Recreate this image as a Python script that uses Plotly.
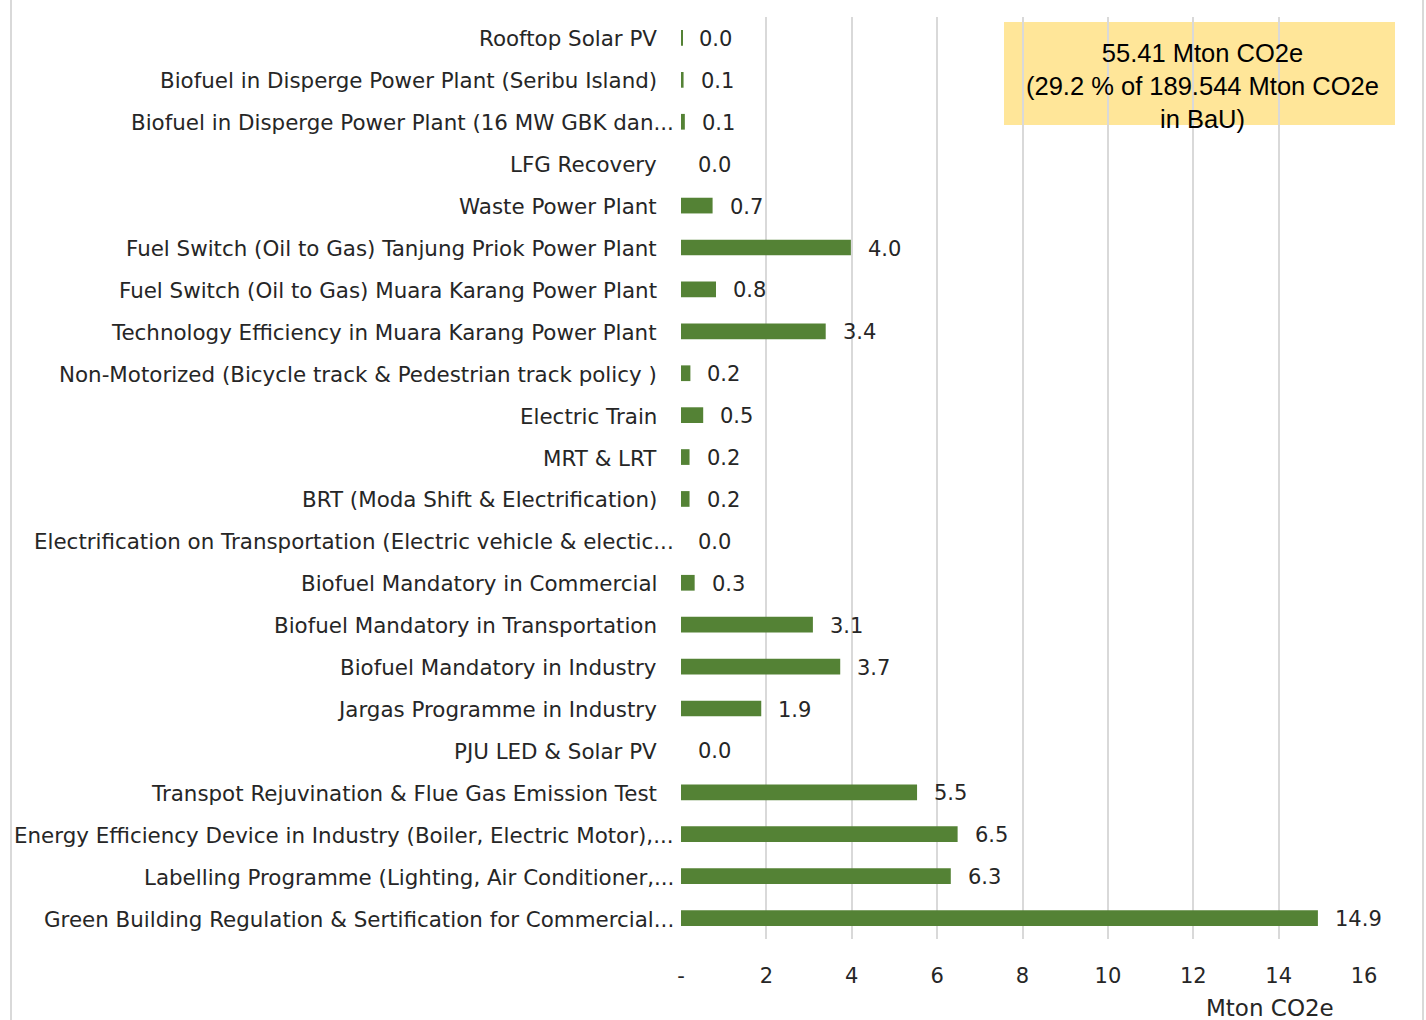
import plotly.graph_objects as go

categories = [
    "Rooftop Solar PV",
    "Biofuel in Disperge Power Plant (Seribu Island)",
    "Biofuel in Disperge Power Plant (16 MW GBK dan...",
    "LFG Recovery",
    "Waste Power Plant",
    "Fuel Switch (Oil to Gas) Tanjung Priok Power Plant",
    "Fuel Switch (Oil to Gas) Muara Karang Power Plant",
    "Technology Efficiency in Muara Karang Power Plant",
    "Non-Motorized (Bicycle track & Pedestrian track policy )",
    "Electric Train",
    "MRT & LRT",
    "BRT (Moda Shift & Electrification)",
    "Electrification on Transportation (Electric vehicle & electic...",
    "Biofuel Mandatory in Commercial",
    "Biofuel Mandatory in Transportation",
    "Biofuel Mandatory in Industry",
    "Jargas Programme in Industry",
    "PJU LED & Solar PV",
    "Transpot Rejuvination & Flue Gas Emission Test",
    "Energy Efficiency Device in Industry (Boiler, Electric Motor),...",
    "Labelling Programme (Lighting, Air Conditioner,...",
    "Green Building Regulation & Sertification for Commercial...",
]
values = [0.03, 0.06, 0.09, 0.0, 0.74, 3.98, 0.82, 3.39, 0.22, 0.52, 0.2, 0.2,
          0.0, 0.32, 3.09, 3.73, 1.88, 0.0, 5.53, 6.48, 6.32, 14.92]
labels = ["0.0", "0.1", "0.1", "0.0", "0.7", "4.0", "0.8", "3.4", "0.2", "0.5", "0.2", "0.2",
          "0.0", "0.3", "3.1", "3.7", "1.9", "0.0", "5.5", "6.5", "6.3", "14.9"]
tick_vals = [0, 2, 4, 6, 8, 10, 12, 14, 16]
tick_text = ["-", "2", "4", "6", "8", "10", "12", "14", "16"]
axis_title = "Mton CO2e"
box_text = "55.41 Mton CO2e<br>(29.2 % of 189.544 Mton CO2e<br>in BaU)"

FONT = "DejaVu Sans"
TXT = "#262626"
L, R, T, B = 681, 1364, 17, 939
W = R - L
H = B - T

fig = go.Figure()
fig.add_trace(go.Bar(
    y=categories, x=values, orientation="h",
    marker=dict(color="#548235", line=dict(width=0)),
    width=0.375, hoverinfo="skip",
))
# value labels
for c, v, t in zip(categories, values, labels):
    fig.add_annotation(x=v, y=c, text=t, xref="x", yref="y", showarrow=False,
                       xanchor="left", xshift=15, yshift=-1,
                       font=dict(family=FONT, size=21, color=TXT))
# category labels (truncated ones sit closer to the axis, as in the original)
for c in categories:
    fig.add_annotation(x=0, y=c, text=c, xref="x", yref="y", showarrow=False,
                       xanchor="right", xshift=-5 if c.endswith("...") else -22,
                       yshift=-1, font=dict(family=FONT, size=21.4, color=TXT))

fig.add_annotation(x=(1270 - L) / W, y=-(1008 - B) / H,
                   xref="x domain", yref="y domain", text=axis_title, showarrow=False,
                   xanchor="center", yanchor="middle",
                   font=dict(family=FONT, size=23, color=TXT))

# summary box
fig.add_shape(type="rect", xref="paper", yref="paper",
              x0=(1004 - L) / W, x1=(1395 - L) / W,
              y0=1 - (125 - T) / H, y1=1 - (22 - T) / H,
              fillcolor="#FFE699", line=dict(width=0), layer="below")
fig.add_annotation(xref="paper", yref="paper",
                   x=(1202 - L) / W, y=1 - (86 - T) / H,
                   text=box_text, showarrow=False, xanchor="center", yanchor="middle",
                   font=dict(family="Liberation Sans", size=25.5, color="#000000"),
                   align="center")

# frame lines on left and right
for px in (11, 1423):
    fig.add_shape(type="line", xref="paper", yref="paper",
                  x0=(px - L) / W, x1=(px - L) / W,
                  y0=-(1020 - B) / H, y1=1 + T / H,
                  line=dict(color="#D9D9D9", width=2))

fig.update_layout(
    width=1426, height=1020,
    margin=dict(l=L, r=1426 - R, t=T, b=1020 - B),
    paper_bgcolor="white", plot_bgcolor="white",
    showlegend=False,
    font=dict(family=FONT, size=21, color=TXT),
    xaxis=dict(range=[0, 16], tickvals=tick_vals, ticktext=tick_text,
               showgrid=True, gridcolor="#D9D9D9", gridwidth=2,
               zeroline=False, showline=False, ticks="",
               tickfont=dict(family=FONT, size=21, color=TXT),
               ticklabelstandoff=22, fixedrange=True),
    yaxis=dict(categoryorder="array", categoryarray=categories, autorange="reversed",
               showgrid=False, zeroline=False, showline=False, ticks="",
               showticklabels=False, fixedrange=True),
)
fig.write_html("out.html", config={"displayModeBar": False},
               post_script="document.body.style.margin='0';document.body.style.overflow='hidden';")
